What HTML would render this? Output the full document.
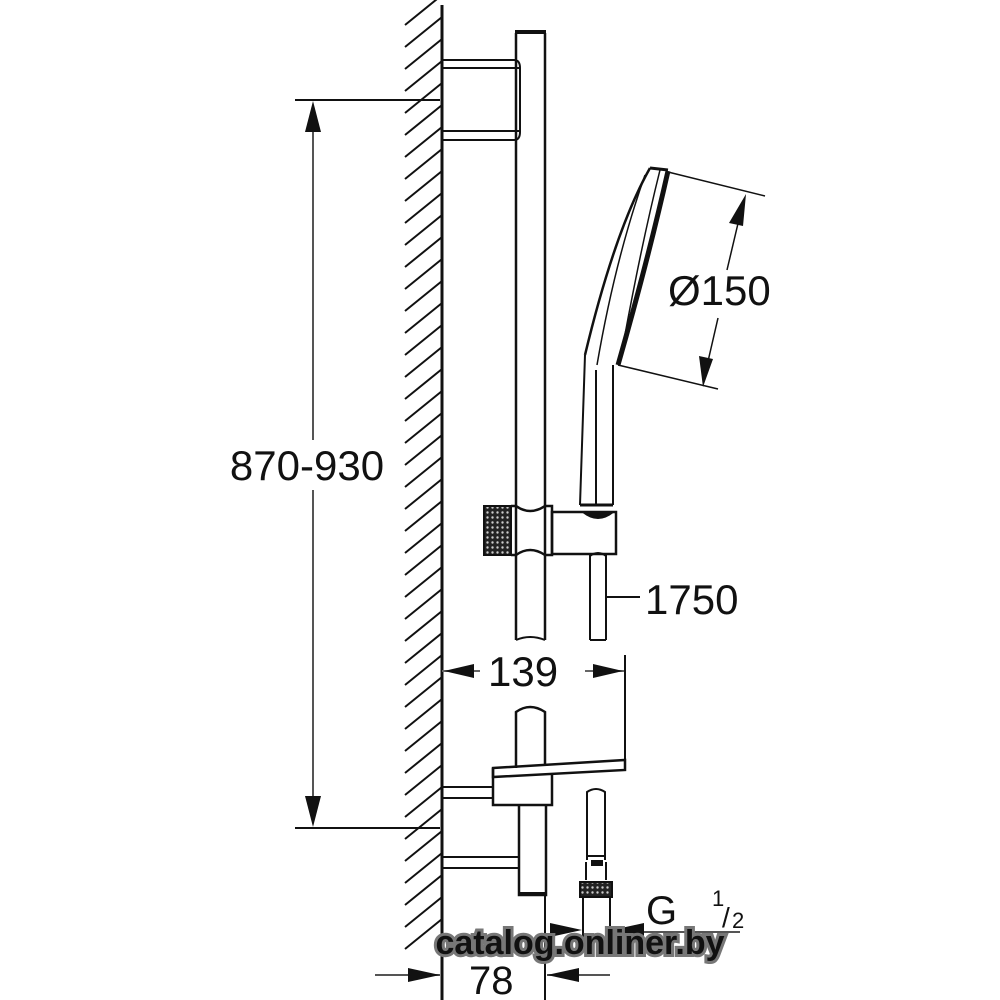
<!DOCTYPE html>
<html><head><meta charset="utf-8"><style>
html,body{margin:0;padding:0;background:#fff;}
svg{display:block}
text{font-family:"Liberation Sans",Arial,sans-serif;fill:#111}
</style></head><body>
<svg width="1000" height="1000" viewBox="0 0 1000 1000" xmlns="http://www.w3.org/2000/svg">
<defs>
<pattern id="knurl" width="5" height="5" patternUnits="userSpaceOnUse">
<rect width="5" height="5" fill="#222"/><circle cx="2.5" cy="2.5" r="1.2" fill="#ccc"/>
</pattern>
</defs>
<g stroke="#111" fill="none" stroke-width="2">
<line x1="442" y1="5" x2="442" y2="1000" stroke-width="3"/>
<g stroke-width="2">
<path d="M405,25 l37,-30 M405,47 l37,-30 M405,69 l37,-30 M405,91 l37,-30 M405,113 l37,-30 M405,135 l37,-30 M405,157 l37,-30 M405,179 l37,-30 M405,201 l37,-30 M405,223 l37,-30 M405,245 l37,-30 M405,267 l37,-30 M405,289 l37,-30 M405,311 l37,-30 M405,333 l37,-30 M405,355 l37,-30 M405,377 l37,-30 M405,399 l37,-30 M405,421 l37,-30 M405,443 l37,-30 M405,465 l37,-30 M405,487 l37,-30 M405,509 l37,-30 M405,531 l37,-30 M405,553 l37,-30 M405,575 l37,-30 M405,597 l37,-30 M405,619 l37,-30 M405,641 l37,-30 M405,663 l37,-30 M405,685 l37,-30 M405,707 l37,-30 M405,729 l37,-30 M405,751 l37,-30 M405,773 l37,-30 M405,795 l37,-30 M405,817 l37,-30 M405,839 l37,-30 M405,861 l37,-30 M405,883 l37,-30 M405,905 l37,-30 M405,927 l37,-30 M405,949 l37,-30"/>
</g>
<path d="M442,60 H514 Q520,60 520,68 V132 Q520,140 514,140 H442" />
<line x1="442" y1="68" x2="519" y2="68"/>
<line x1="442" y1="131" x2="519" y2="131"/>
<path d="M516,33 V640 M545,33 V640" stroke-width="2.5"/>
<line x1="515" y1="32" x2="546" y2="32" stroke-width="4"/>
<path d="M516,640 Q530,634 545,640"/>
<line x1="295" y1="100" x2="440" y2="100"/>
<line x1="295" y1="828" x2="440" y2="828"/>
<line x1="313" y1="125" x2="313" y2="440" stroke="#555"/>
<line x1="313" y1="490" x2="313" y2="805" stroke="#555"/>
<polygon points="313,101 305,132 321,132" fill="#111" stroke="none"/>
<polygon points="313,827 305,796 321,796" fill="#111" stroke="none"/>
<path d="M650,168 Q615,230 585,355" stroke-width="2.5"/>
<path d="M650,168 L668,170" stroke-width="3"/>
<path d="M660,170 Q640,250 620,362" stroke-width="1.5"/>
<path d="M668,171 Q648,260 618,365" stroke-width="5"/>
<path d="M645,175 Q615,260 597,365" stroke-width="1.5"/>
<path d="M585,355 L580,505 M613,365 L613,505 M596,370 L596,505" stroke-width="2"/>
<path d="M580,505 H613" stroke-width="3"/>
<line x1="668" y1="172" x2="765" y2="196" stroke-width="1.5"/>
<line x1="618" y1="365" x2="718" y2="389" stroke-width="1.5"/>
<line x1="740" y1="215" x2="727" y2="270" stroke-width="1.5"/>
<line x1="718" y1="318" x2="706" y2="370" stroke-width="1.5"/>
<polygon points="746,194 729,223 743,226" fill="#111" stroke="none"/>
<polygon points="703,387 699,356 713,359" fill="#111" stroke="none"/>
<rect x="484" y="506" width="27" height="49" fill="url(#knurl)" stroke="#111"/>
<path d="M511,506 H516 Q530,516 545,506 H552 V555 H545 Q530,545 516,555 H511" stroke-width="2.5"/>
<rect x="552" y="512" width="64" height="42" stroke-width="2.5"/>
<path d="M583,512 Q598,524 613,512" fill="#111"/>
<path d="M590,553 V640 M606,553 V640 M590,640 H606 M590,556 Q598,550 606,556"/>
<line x1="606" y1="597" x2="640" y2="597"/>
<line x1="442" y1="671" x2="480" y2="671" stroke="#666"/>
<polygon points="444,671 474,664 474,678" fill="#111" stroke="none"/>
<line x1="585" y1="671" x2="625" y2="671" stroke="#666"/>
<polygon points="623,671 593,664 593,678" fill="#111" stroke="none"/>
<line x1="625" y1="655" x2="625" y2="770"/>
<path d="M516,768 V712 Q530,702 545,712 V765" stroke-width="2.5"/>
<path d="M493,768 L625,760 V770 L493,777 Z" stroke-width="2.5"/>
<path d="M493,768 V805 H552 V773" stroke-width="2.5"/>
<path d="M519,805 V895 H546 V805" stroke-width="2.5"/>
<line x1="519" y1="894" x2="546" y2="894" stroke-width="4"/>
<path d="M442,787 H493 M442,798 H493" stroke-width="2"/>
<path d="M442,857 H519 M442,868 H519" stroke-width="2"/>
<path d="M587,860 V792 Q596,786 605,792 V860" stroke-width="2"/>
<path d="M586,856 H606 M586,880 V862 M606,880 V862"/>
<rect x="592" y="861" width="10" height="4" fill="#111"/>
<rect x="580" y="882" width="32" height="15" fill="url(#knurl)" stroke="#111"/>
<path d="M583,897 V940 M610,897 V940"/>
<line x1="545" y1="895" x2="545" y2="1000" stroke-width="2"/>
<line x1="612" y1="932" x2="740" y2="932" stroke="#555"/>
<polygon points="582,930 550,923 550,937" fill="#111" stroke="none"/>
<polygon points="612,930 644,923 644,937" fill="#111" stroke="none"/>
<line x1="375" y1="975" x2="440" y2="975" stroke="#555"/>
<polygon points="440,975 408,968 408,982" fill="#111" stroke="none"/>
<line x1="547" y1="975" x2="610" y2="975" stroke="#555"/>
<polygon points="547,975 579,968 579,982" fill="#111" stroke="none"/>
</g>
<text x="307" y="480" font-size="42" text-anchor="middle">870-930</text>
<text x="668" y="305" font-size="42">Ø150</text>
<text x="645" y="614" font-size="42">1750</text>
<text x="488" y="686" font-size="42">139</text>
<text x="646" y="924" font-size="40">G</text>
<text x="712" y="906" font-size="22">1</text>
<text x="722" y="927" font-size="28">/</text>
<text x="732" y="928" font-size="22">2</text>
<text x="469" y="994" font-size="40">78</text>
<text x="580" y="954" font-size="34" font-weight="bold" text-anchor="middle" fill="#fff" stroke="#777" stroke-width="6" paint-order="stroke">catalog.onliner.by</text>
</svg>
</body></html>
